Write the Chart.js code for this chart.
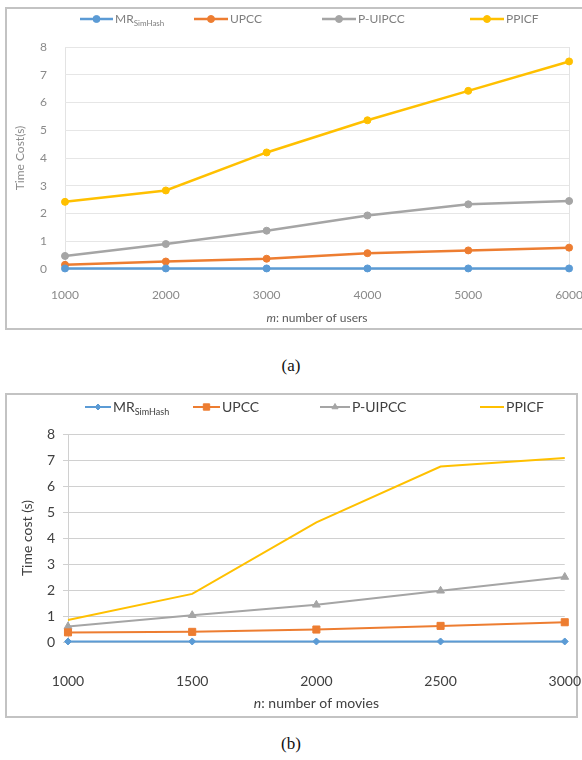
<!DOCTYPE html>
<html>
<head>
<meta charset="utf-8">
<script src="https://cdn.jsdelivr.net/npm/chart.js@4.4.1/dist/chart.umd.min.js"></script>
<style>
  html, body { margin: 0; padding: 0; background: #fff; width: 582px; height: 760px; overflow: hidden; position: relative; }
  .Box { position: absolute; border: 2px solid #c3c3c3; box-sizing: border-box; }
  canvas { position: absolute; }
  .Caption { position: absolute; width: 582px; left: 0; text-align: center; font-family: "Liberation Serif", "DejaVu Serif", serif; font-size: 17px; color: #111; }
</style>
</head>
<body>
<div class="Box" style="left:5px; top:7px; width:590px; height:323px;"></div>
<canvas id="usersChart" width="595" height="320" style="left:7px; top:9px;"></canvas>
<div class="Caption" style="top:356px;">(a)</div>

<div class="Box" style="left:5px; top:393px; width:573px; height:325px;"></div>
<canvas id="moviesChart" width="597" height="321" style="left:7px; top:395px;"></canvas>
<div class="Caption" style="top:734px;">(b)</div>

<script>
// series names (MR gets a subscript)
const seriesNames = ['MR', 'UPCC', 'P-UIPCC', 'PPICF'];
const seriesSubs = ['SimHash', '', '', ''];
const yTickValues = [0, 1, 2, 3, 4, 5, 6, 7, 8];

// (a) m: number of users
const usersLabels = ['1000', '2000', '3000', '4000', '5000', '6000'];
const usersMR = [0.02, 0.02, 0.02, 0.02, 0.02, 0.02];
const usersUPCC = [0.15, 0.27, 0.37, 0.57, 0.67, 0.77];
const usersPUIPCC = [0.47, 0.9, 1.38, 1.93, 2.33, 2.45];
const usersPPICF = [2.42, 2.83, 4.2, 5.36, 6.42, 7.48];

// (b) n: number of movies
const moviesLabels = ['1000', '1500', '2000', '2500', '3000'];
const moviesMR = [0.02, 0.02, 0.02, 0.02, 0.02];
const moviesUPCC = [0.37, 0.39, 0.48, 0.62, 0.76];
const moviesPUIPCC = [0.6, 1.03, 1.43, 1.97, 2.5];
const moviesPPICF = [0.85, 1.85, 4.6, 6.75, 7.08];

const colors = ['#5b9bd5', '#ed7d31', '#a5a5a5', '#ffc000'];

// draws the legend row and the x title (mixed italic / subscript text)
const decorPlugin = {
    id: 'decor',
    afterDraw(chart, args, opts) {
        const ctx = chart.ctx;
        const y = opts.legendY;
        ctx.save();
        chart.data.datasets.forEach((ds, i) => {
            const it = opts.items[i];
            ctx.strokeStyle = ds.borderColor;
            ctx.fillStyle = ds.backgroundColor;
            ctx.lineWidth = ds.borderWidth;
            ctx.beginPath();
            ctx.moveTo(it.x1, y);
            ctx.lineTo(it.x2, y);
            ctx.stroke();
            if (ds.pointStyle !== false) {
                ctx.lineWidth = 1;
                Chart.helpers.drawPoint(ctx, {
                    pointStyle: ds.pointStyle,
                    radius: opts.legendRadius[i],
                    borderWidth: 1,
                    rotation: 0
                }, (it.x1 + it.x2) / 2, y);
            }
            ctx.fillStyle = opts.color;
            ctx.textBaseline = 'middle';
            ctx.textAlign = 'left';
            ctx.font = opts.font;
            ctx.fillText(seriesNames[i], it.tx, y);
            if (seriesSubs[i]) {
                const w = ctx.measureText(seriesNames[i]).width;
                ctx.font = opts.subFont;
                ctx.fillText(seriesSubs[i], it.tx + w, y + opts.subShift);
            }
        });
        // x title
        const area = chart.chartArea;
        const cx = (area.left + area.right) / 2;
        ctx.font = 'italic ' + opts.font;
        const w1 = ctx.measureText(opts.xVar).width;
        ctx.font = opts.font;
        const w2 = ctx.measureText(opts.xText).width;
        const sx = cx - (w1 + w2) / 2;
        ctx.fillStyle = opts.titleColor;
        ctx.font = 'italic ' + opts.font;
        ctx.fillText(opts.xVar, sx, opts.xTitleY);
        ctx.font = opts.font;
        ctx.fillText(opts.xText, sx + w1, opts.xTitleY);
        ctx.restore();
    }
};

function makeDatasets(values, styles, radii, width) {
    return values.map((v, i) => ({
        label: seriesNames[i],
        data: v,
        borderColor: colors[i],
        backgroundColor: colors[i],
        borderWidth: width,
        pointStyle: styles[i],
        pointRadius: styles[i] === false ? 0 : radii[i],
        pointBorderWidth: 1,
        tension: 0,
        clip: false,
        order: i
    }));
}

// (a)
const usersSets = makeDatasets([usersMR, usersUPCC, usersPUIPCC, usersPPICF],
    ['circle', 'circle', 'circle', 'circle'], [3.5, 3.5, 3.5, 3.5], 2.5);

new Chart(document.getElementById('usersChart'), {
    type: 'line',
    data: { labels: usersLabels, datasets: usersSets },
    options: {
        responsive: false,
        devicePixelRatio: 1,
        animation: false,
        layout: { padding: { top: 38, right: 9, left: 0, bottom: 0 } },
        plugins: {
            legend: { display: false },
            tooltip: { enabled: false },
            decor: {
                legendY: 10,
                items: [{ x1: 73, x2: 106, tx: 108 }, { x1: 187, x2: 221, tx: 223 }, { x1: 315, x2: 349, tx: 351 }, { x1: 463, x2: 497, tx: 499 }],
                legendRadius: [3.5, 3.5, 3.5, 3.5],
                font: '12px Lato',
                subFont: '8px Lato',
                subShift: 4,
                color: '#7f7f7f',
                titleColor: '#595959',
                xVar: 'm',
                xText: ': number of users',
                xTitleY: 309
            }
        },
        scales: {
            x: {
                offset: false,
                grid: {
                    drawTicks: false,
                    color: c => (c.index === 0 || c.index === usersLabels.length - 1) ? '#e3e3e3' : 'rgba(0,0,0,0)'
                },
                border: { display: false },
                ticks: { padding: 19, color: '#8a8a8a', font: { family: 'Lato', size: 12 }, maxRotation: 0 },
                afterFit: s => { s.height = 60; }
            },
            y: {
                min: 0, max: 8,
                afterBuildTicks: s => { s.ticks = yTickValues.map(v => ({ value: v })); },
                grid: { drawTicks: false, color: '#e6e6e6' },
                border: { display: false },
                ticks: { padding: 18, color: '#8a8a8a', font: { family: 'Lato', size: 12 } },
                title: { display: true, text: 'Time Cost(s)', color: '#8a8a8a', font: { family: 'Lato', size: 12 }, padding: { top: 6, bottom: 0 } },
                afterFit: s => { s.width = 58; }
            }
        }
    },
    plugins: [decorPlugin]
});

// (b)
const moviesSets = makeDatasets([moviesMR, moviesUPCC, moviesPUIPCC, moviesPPICF],
    ['rectRot', 'rect', 'triangle', false], [3.5, 5, 4.5, 0], 2);

new Chart(document.getElementById('moviesChart'), {
    type: 'line',
    data: { labels: moviesLabels, datasets: moviesSets },
    options: {
        responsive: false,
        devicePixelRatio: 1,
        animation: false,
        layout: { padding: { top: 39, right: 6, left: 0, bottom: 0 } },
        plugins: {
            legend: { display: false },
            tooltip: { enabled: false },
            decor: {
                legendY: 12,
                items: [{ x1: 78, x2: 104, tx: 106 }, { x1: 186, x2: 213, tx: 215 }, { x1: 313, x2: 343, tx: 345 }, { x1: 473, x2: 497, tx: 499 }],
                legendRadius: [3, 4.5, 3.5, 0],
                font: '14px Lato',
                subFont: '9px Lato',
                subShift: 5,
                color: '#404040',
                titleColor: '#404040',
                xVar: 'n',
                xText: ': number of movies',
                xTitleY: 308
            }
        },
        scales: {
            x: {
                offset: false,
                grid: { display: false },
                border: { display: false },
                ticks: { padding: 23, color: '#404040', font: { family: 'Lato', size: 14 }, maxRotation: 0 },
                afterFit: s => { s.height = 74; }
            },
            y: {
                min: 0, max: 8,
                afterBuildTicks: s => { s.ticks = yTickValues.map(v => ({ value: v })); },
                grid: { drawTicks: true, tickLength: 5, color: '#d0d0d0' },
                border: { display: true, color: '#d0d0d0' },
                ticks: { padding: 8, color: '#404040', font: { family: 'Lato', size: 14 } },
                title: { display: true, text: 'Time cost (s)', color: '#404040', font: { family: 'Lato', size: 14 }, padding: { top: 12, bottom: 0 } },
                afterFit: s => { s.width = 61; }
            }
        }
    },
    plugins: [decorPlugin]
});
</script>
</body>
</html>
